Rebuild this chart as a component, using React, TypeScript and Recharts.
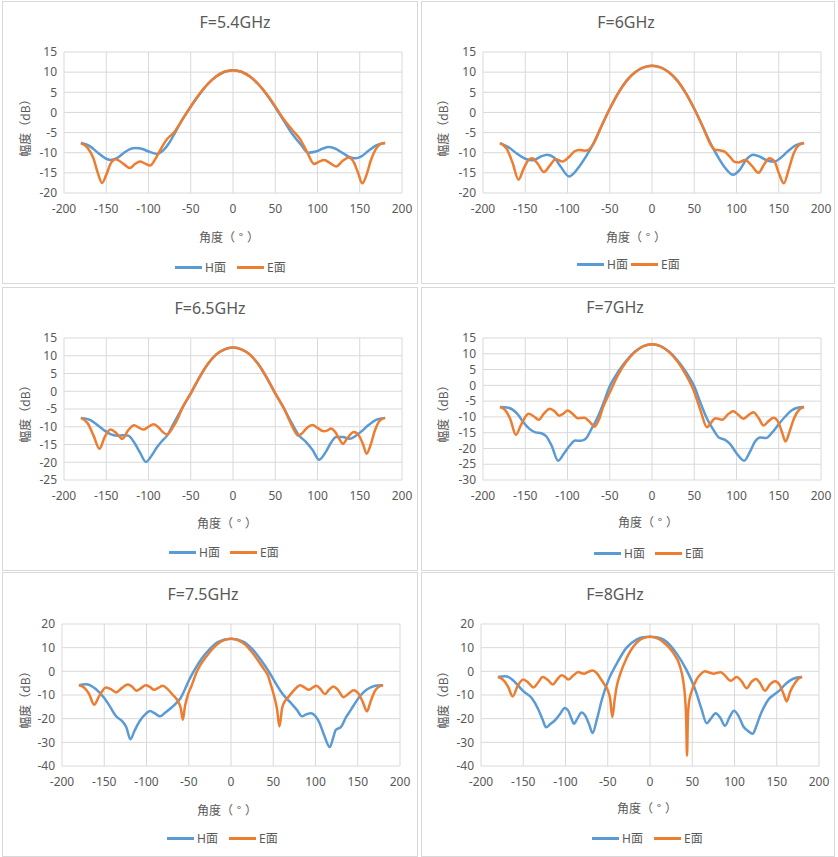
import React from 'react';
import { LineChart, Line, XAxis, YAxis, CartesianGrid } from 'recharts';

// ---------- data: [angle (deg), amplitude (dB)] ----------
const X_TICKS = [-200, -150, -100, -50, 0, 50, 100, 150, 200];
const Y_TICKS_A = [-20, -15, -10, -5, 0, 5, 10, 15];
const Y_TICKS_B = [-25, -20, -15, -10, -5, 0, 5, 10, 15];
const Y_TICKS_C = [-30, -25, -20, -15, -10, -5, 0, 5, 10, 15];
const Y_TICKS_D = [-40, -30, -20, -10, 0, 10, 20];

const SERIES_NAMES = ['H面', 'E面'];
const TITLES = ['F=5.4GHz', 'F=6GHz', 'F=6.5GHz', 'F=7GHz', 'F=7.5GHz', 'F=8GHz'];

const H_54 = [[-180,-7.6],[-170,-8.3],[-160,-10.0],[-150,-11.5],[-145,-11.8],[-138,-11.4],[-130,-10.2],[-122,-9.1],[-115,-8.8],[-108,-9.0],[-100,-9.7],[-90,-10.3],[-82,-9.3],[-75,-7.4],[-68,-4.8],[-60,-1.8],[-50,1.4],[-40,4.4],[-30,7.0],[-20,8.9],[-10,10.1],[0,10.5],[10,10.1],[20,8.9],[30,7.0],[40,4.4],[50,1.3],[60,-2.0],[70,-5.3],[80,-7.9],[89,-10.0],[98,-9.7],[106,-9.0],[113,-8.6],[120,-8.9],[130,-10.1],[138,-11.1],[145,-11.4],[152,-10.9],[160,-9.6],[170,-8.1],[180,-7.6]];
const E_54 = [[-180,-7.6],[-172,-8.8],[-165,-11.5],[-160,-15.0],[-155,-17.5],[-150,-15.5],[-145,-12.8],[-139,-11.6],[-130,-12.7],[-122,-13.8],[-116,-12.8],[-110,-12.2],[-104,-12.7],[-98,-13.2],[-92,-11.6],[-86,-9.3],[-78,-6.6],[-70,-5.0],[-60,-1.8],[-50,1.5],[-40,4.5],[-30,7.0],[-20,8.9],[-10,10.1],[0,10.5],[10,10.1],[20,8.9],[30,7.0],[40,4.5],[50,1.5],[60,-1.7],[70,-4.3],[80,-6.8],[88,-10.0],[96,-12.8],[102,-12.2],[108,-11.8],[115,-12.6],[122,-13.4],[130,-12.0],[137,-11.2],[143,-12.4],[148,-15.0],[153,-17.6],[158,-15.5],[163,-12.0],[170,-8.8],[175,-7.8],[180,-7.6]];

const H_60 = [[-180,-7.6],[-170,-8.6],[-160,-10.2],[-150,-11.5],[-141,-11.9],[-132,-11.0],[-124,-10.5],[-116,-11.2],[-108,-13.5],[-98,-15.9],[-92,-15.0],[-86,-13.4],[-78,-10.9],[-70,-8.0],[-60,-3.5],[-50,0.9],[-40,4.8],[-30,7.9],[-20,10.0],[-10,11.2],[0,11.6],[10,11.2],[20,10.0],[30,7.9],[40,4.8],[50,0.9],[60,-3.5],[70,-8.0],[78,-11.0],[86,-13.6],[96,-15.5],[104,-14.2],[112,-11.6],[120,-10.5],[128,-11.0],[137,-12.0],[145,-12.2],[152,-11.3],[160,-9.8],[170,-8.2],[180,-7.6]];
const E_60 = [[-180,-7.6],[-172,-9.0],[-165,-12.5],[-158,-16.7],[-152,-14.0],[-146,-11.8],[-142,-11.4],[-135,-12.8],[-128,-14.8],[-121,-13.2],[-114,-11.6],[-106,-12.2],[-98,-11.0],[-92,-9.7],[-86,-9.3],[-80,-9.5],[-76,-9.4],[-70,-8.0],[-60,-3.5],[-50,0.9],[-40,4.8],[-30,7.9],[-20,10.0],[-10,11.2],[0,11.6],[10,11.2],[20,10.0],[30,7.9],[40,4.8],[50,0.9],[60,-3.5],[70,-8.2],[75,-9.3],[80,-9.4],[86,-9.7],[92,-11.0],[98,-12.3],[103,-12.4],[110,-11.8],[118,-13.2],[126,-15.0],[133,-12.8],[139,-11.4],[145,-12.2],[150,-15.0],[156,-17.6],[162,-14.0],[168,-10.0],[174,-8.1],[180,-7.6]];

const H_65 = [[-180,-7.5],[-170,-8.0],[-162,-9.2],[-153,-10.9],[-145,-12.1],[-137,-12.5],[-130,-12.4],[-124,-12.5],[-116,-14.8],[-110,-17.3],[-103,-19.9],[-96,-18.0],[-90,-15.8],[-84,-14.0],[-78,-12.5],[-70,-9.0],[-60,-4.7],[-50,-0.6],[-40,3.8],[-30,7.6],[-20,10.3],[-10,11.8],[0,12.3],[10,11.8],[20,10.3],[30,7.6],[40,3.8],[50,-0.6],[60,-4.7],[70,-9.2],[78,-12.4],[86,-14.2],[94,-16.5],[102,-19.3],[110,-17.0],[116,-14.5],[122,-12.9],[130,-12.9],[138,-13.4],[145,-12.6],[152,-11.3],[160,-9.6],[170,-8.0],[180,-7.5]];
const E_65 = [[-180,-7.5],[-172,-9.0],[-165,-12.5],[-158,-16.2],[-152,-13.0],[-145,-10.8],[-138,-11.8],[-131,-13.4],[-124,-11.0],[-117,-9.6],[-111,-10.3],[-106,-10.8],[-100,-10.0],[-94,-9.3],[-88,-10.2],[-83,-11.5],[-78,-12.2],[-72,-10.5],[-65,-7.5],[-60,-4.7],[-50,-0.6],[-40,3.8],[-30,7.6],[-20,10.3],[-10,11.8],[0,12.3],[10,11.8],[20,10.3],[30,7.6],[40,3.8],[50,-0.6],[60,-4.7],[66,-7.8],[72,-10.8],[77,-12.5],[82,-11.8],[88,-10.2],[94,-9.5],[100,-10.3],[107,-11.3],[112,-11.0],[116,-10.5],[121,-11.5],[126,-13.5],[130,-14.8],[135,-13.3],[143,-11.5],[149,-12.5],[154,-15.0],[158,-17.6],[163,-15.0],[168,-11.0],[174,-8.2],[180,-7.5]];

const H_70 = [[-180,-6.9],[-172,-7.0],[-165,-7.7],[-158,-9.5],[-152,-11.8],[-145,-13.8],[-138,-14.9],[-131,-15.2],[-125,-16.2],[-119,-19.0],[-111,-23.9],[-104,-21.5],[-97,-19.0],[-91,-17.5],[-84,-17.6],[-78,-16.8],[-72,-14.0],[-65,-10.5],[-58,-6.0],[-50,-0.3],[-40,4.3],[-30,7.9],[-20,10.7],[-10,12.4],[0,13.0],[10,12.4],[20,10.7],[30,7.9],[40,4.3],[50,-0.3],[58,-6.0],[65,-10.5],[72,-13.8],[79,-16.5],[86,-17.2],[92,-18.5],[100,-21.5],[109,-23.9],[116,-21.0],[122,-17.8],[128,-16.5],[135,-16.7],[142,-15.0],[150,-12.3],[158,-9.8],[165,-8.0],[172,-7.1],[180,-6.9]];
const E_70 = [[-180,-6.9],[-174,-7.8],[-168,-10.5],[-161,-15.7],[-155,-12.5],[-146,-9.0],[-140,-9.8],[-134,-10.9],[-128,-9.0],[-121,-7.4],[-115,-8.3],[-110,-9.6],[-105,-9.0],[-100,-8.0],[-94,-9.0],[-88,-10.4],[-80,-10.3],[-74,-11.5],[-68,-13.1],[-63,-11.0],[-58,-7.0],[-50,-2.3],[-40,3.4],[-30,7.6],[-20,10.6],[-10,12.4],[0,13.0],[10,12.4],[20,10.6],[30,7.6],[40,3.4],[50,-2.1],[58,-8.5],[65,-13.3],[70,-11.8],[75,-10.4],[83,-10.9],[90,-9.2],[96,-8.2],[102,-9.3],[108,-10.6],[114,-9.5],[120,-8.5],[126,-10.3],[132,-12.7],[138,-11.3],[144,-10.3],[150,-12.0],[154,-15.0],[158,-17.8],[163,-14.5],[168,-10.5],[174,-7.8],[180,-6.9]];

const H_75 = [[-180,-5.9],[-172,-5.5],[-166,-6.0],[-160,-7.5],[-150,-11.3],[-143,-15.0],[-136,-19.0],[-129,-21.0],[-124,-23.5],[-119,-28.7],[-114,-25.0],[-108,-21.0],[-101,-18.0],[-96,-16.8],[-90,-17.8],[-84,-19.0],[-78,-17.5],[-71,-15.5],[-65,-13.5],[-60,-11.5],[-55,-8.0],[-50,-4.0],[-43,0.7],[-35,5.2],[-25,9.5],[-15,12.5],[0,13.8],[15,12.5],[25,9.5],[35,5.0],[45,-0.2],[52,-4.5],[59,-8.5],[65,-11.2],[71,-13.4],[78,-16.3],[84,-19.0],[89,-18.2],[95,-17.7],[100,-19.0],[105,-22.0],[110,-26.8],[117,-32.0],[121,-28.0],[124,-24.7],[130,-23.6],[136,-19.5],[142,-16.2],[148,-12.8],[154,-9.9],[160,-7.9],[166,-6.7],[173,-6.0],[180,-5.9]];
const E_75 = [[-180,-5.9],[-174,-6.8],[-168,-9.5],[-162,-14.1],[-156,-10.5],[-148,-6.8],[-142,-7.5],[-136,-8.9],[-129,-7.0],[-122,-5.6],[-117,-6.5],[-112,-8.2],[-106,-7.0],[-101,-5.9],[-96,-6.6],[-91,-7.8],[-86,-7.0],[-81,-6.1],[-75,-7.5],[-69,-9.9],[-63,-12.5],[-59.5,-15.5],[-57,-20.5],[-54.5,-14.8],[-51,-9.9],[-47,-6.4],[-40,0.2],[-28,6.8],[-16,11.5],[-8,13.2],[0,13.8],[8,13.2],[16,11.5],[28,6.6],[40,0.4],[43.4,-1.4],[47,-5.5],[51,-10.4],[54.5,-16.0],[57.3,-23.3],[60.5,-15.5],[64,-12.5],[68,-10.8],[75,-7.8],[82,-5.9],[87,-6.8],[92,-7.8],[97,-6.8],[101,-6.1],[106,-7.5],[111,-9.6],[116,-7.8],[121,-6.4],[127,-8.0],[133,-10.9],[139,-9.5],[145,-8.0],[151,-9.5],[156,-13.0],[161,-16.9],[165,-13.0],[170,-8.5],[175,-6.5],[180,-5.9]];

const H_80 = [[-180,-2.4],[-172,-2.1],[-166,-2.7],[-160,-4.5],[-150,-8.4],[-140,-11.3],[-132,-16.2],[-127,-20.5],[-123,-23.6],[-118,-22.3],[-112,-20.5],[-106,-17.8],[-101,-15.5],[-97,-16.5],[-93,-20.0],[-90,-22.2],[-86,-20.0],[-81,-17.4],[-77,-18.5],[-72,-22.5],[-68,-26.1],[-63,-20.5],[-57,-12.0],[-49,-3.5],[-39,3.5],[-28,9.9],[-16,13.4],[-8,14.4],[0,14.6],[8,14.4],[16,13.4],[31,7.8],[43,0.7],[55,-9.2],[61,-16.0],[67,-21.9],[72,-20.0],[77.7,-17.7],[83,-19.5],[88.8,-23.0],[94,-19.5],[99.4,-16.7],[105,-19.0],[110.5,-23.3],[116,-25.2],[121.5,-26.4],[126,-23.0],[130,-19.0],[135,-15.0],[140,-12.0],[147,-9.8],[154,-7.8],[160,-5.5],[166,-3.8],[173,-2.7],[180,-2.4]];
const E_80 = [[-180,-2.4],[-174,-3.5],[-168,-6.5],[-162.5,-10.6],[-157,-6.5],[-150,-3.5],[-144,-4.8],[-138,-6.8],[-132,-4.5],[-127,-2.4],[-121,-3.6],[-115,-5.6],[-110,-3.5],[-104.5,-1.7],[-100,-2.5],[-96.6,-3.5],[-91,-1.8],[-84.8,-0.3],[-81,-0.8],[-78,-1.0],[-73,-0.2],[-68,0.3],[-63,-0.8],[-59,-2.8],[-54,-5.5],[-50,-8.0],[-47.3,-11.3],[-44.6,-19.3],[-41.6,-11.3],[-39.4,-6.4],[-35.5,-1.4],[-27.6,5.6],[-16,12.0],[-8,14.0],[0,14.6],[8,14.0],[16,12.3],[27.6,7.8],[35.5,2.1],[39.4,-4.2],[41.5,-11.0],[42.8,-20.0],[43.8,-35.7],[44.8,-20.0],[46.2,-13.0],[49.3,-8.5],[55,-3.5],[60,-1.2],[65,0.0],[70,-0.5],[75.7,-1.0],[80,-0.6],[83.6,-0.4],[88,-1.5],[95.5,-4.0],[102.6,-2.4],[108,-4.0],[114.4,-7.1],[120,-4.5],[125.4,-3.2],[130,-4.8],[136,-8.2],[142,-5.5],[148,-4.2],[153,-5.5],[158,-9.5],[161.7,-12.7],[166,-8.5],[171.6,-4.9],[176,-3.0],[180,-2.4]];

// ---------- styling / layout ----------
const BLUE = '#5B9BD5';
const ORANGE = '#ED7D31';
const GRID = '#D9D9D9';
const TEXT = '#595959';
const FONT = "'Noto Sans', 'Noto Sans CJK SC', 'Microsoft YaHei', sans-serif";

const toXY = (pairs: number[][]) => pairs.map(([x, y]) => ({ x, y }));

type PanelCfg = {
  title: string;
  h: number[][];
  e: number[][];
  yTicks: number[];
  box: { x: number; y: number; w: number; h: number };
  plot: { x1: number; y1: number; x2: number; y2: number };
  titleC: [number, number];
  xLabC: [number, number];
  yLabC: [number, number];
  legend: { b: number; o: number; y: number };
};

const PANELS: PanelCfg[] = [
  { title: TITLES[0], h: H_54, e: E_54, yTicks: Y_TICKS_A,
    box: { x: 2, y: 1, w: 416, h: 283 }, plot: { x1: 64, y1: 52, x2: 402, y2: 193 },
    titleC: [235, 22], xLabC: [229, 237], yLabC: [25, 125], legend: { b: 175, o: 237, y: 267 } },
  { title: TITLES[1], h: H_60, e: E_60, yTicks: Y_TICKS_A,
    box: { x: 421, y: 1, w: 414, h: 283 }, plot: { x1: 483, y1: 52, x2: 821, y2: 193 },
    titleC: [626, 22], xLabC: [636, 237], yLabC: [443, 125], legend: { b: 577, o: 631, y: 264 } },
  { title: TITLES[2], h: H_65, e: E_65, yTicks: Y_TICKS_B,
    box: { x: 2, y: 287, w: 416, h: 284 }, plot: { x1: 64, y1: 338, x2: 402, y2: 480 },
    titleC: [210, 308], xLabC: [227, 523], yLabC: [25, 411], legend: { b: 169, o: 230, y: 552 } },
  { title: TITLES[3], h: H_70, e: E_70, yTicks: Y_TICKS_C,
    box: { x: 421, y: 287, w: 414, h: 284 }, plot: { x1: 483, y1: 338, x2: 821, y2: 480 },
    titleC: [615, 307], xLabC: [648, 522], yLabC: [443, 411], legend: { b: 594, o: 655, y: 553 } },
  { title: TITLES[4], h: H_75, e: E_75, yTicks: Y_TICKS_D,
    box: { x: 2, y: 572, w: 416, h: 285 }, plot: { x1: 62, y1: 624, x2: 400, y2: 766 },
    titleC: [203, 594], xLabC: [227, 810], yLabC: [25, 697], legend: { b: 167, o: 229, y: 838 } },
  { title: TITLES[5], h: H_80, e: E_80, yTicks: Y_TICKS_D,
    box: { x: 421, y: 572, w: 414, h: 285 }, plot: { x1: 481, y1: 624, x2: 819, y2: 766 },
    titleC: [615, 594], xLabC: [647, 808], yLabC: [443, 697], legend: { b: 592, o: 654, y: 838 } },
];

const YW = 40;
const XH = 20;

const abs = (x: number, y: number): React.CSSProperties => ({
  position: 'absolute', left: x, top: y, transform: 'translate(-50%, -50%)', whiteSpace: 'nowrap',
  color: TEXT, fontFamily: FONT, lineHeight: 1,
});

function LegendItem({ x, y, color, label }: { x: number; y: number; color: string; label: string }) {
  return (
    <div style={{ position: 'absolute', left: x, top: y - 8, height: 16, display: 'flex', alignItems: 'center', fontFamily: FONT, fontSize: 12, color: TEXT, whiteSpace: 'nowrap' }}>
      <div style={{ width: 27, height: 3, background: color, marginRight: 3 }} />
      <span>{label}</span>
    </div>
  );
}

function Panel({ cfg }: { cfg: PanelCfg }) {
  const { box, plot } = cfg;
  const margin = {
    left: plot.x1 - box.x - YW,
    top: plot.y1 - box.y,
    right: box.x + box.w - plot.x2,
    bottom: box.y + box.h - plot.y2 - XH,
  };
  const yMin = cfg.yTicks[0];
  const yMax = cfg.yTicks[cfg.yTicks.length - 1];
  return (
    <>
      <div style={{ position: 'absolute', left: box.x, top: box.y, width: box.w, height: box.h, boxSizing: 'border-box', border: `1px solid ${GRID}`, background: '#fff' }} />
      <div style={{ position: 'absolute', left: box.x, top: box.y, width: box.w, height: box.h }}>
        <LineChart width={box.w} height={box.h} margin={margin}>
          <CartesianGrid stroke={GRID} strokeWidth={1} />
          <XAxis type="number" dataKey="x" domain={[-200, 200]} ticks={X_TICKS} interval={0}
            height={XH} tickSize={0} tickMargin={11} axisLine={false} tickLine={false}
            tick={{ fill: TEXT, fontSize: 12, fontFamily: FONT }} allowDataOverflow />
          <YAxis type="number" domain={[yMin, yMax]} ticks={cfg.yTicks} interval={0}
            width={YW} tickSize={0} tickMargin={7} axisLine={false} tickLine={false}
            tick={{ fill: TEXT, fontSize: 12, fontFamily: FONT }} allowDataOverflow />
          <Line type="monotone" data={toXY(cfg.h)} dataKey="y" name={SERIES_NAMES[0]} stroke={BLUE}
            strokeWidth={2.5} dot={false} activeDot={false} isAnimationActive={false} />
          <Line type="monotone" data={toXY(cfg.e)} dataKey="y" name={SERIES_NAMES[1]} stroke={ORANGE}
            strokeWidth={2.5} dot={false} activeDot={false} isAnimationActive={false} />
        </LineChart>
      </div>
      <div style={{ ...abs(cfg.titleC[0], cfg.titleC[1]), fontSize: 16 }}>{cfg.title}</div>
      <div style={{ ...abs(cfg.xLabC[0], cfg.xLabC[1]), fontSize: 12, fontFamily: "'Noto Sans CJK SC', sans-serif" }}>
        角度（<span style={{ display: 'inline-block', width: 12, textAlign: 'center' }}>°</span>）
      </div>
      <div style={{ ...abs(cfg.yLabC[0], cfg.yLabC[1]), fontSize: 12, transform: 'translate(-50%, -50%) rotate(-90deg)', fontFamily: "'Noto Sans CJK SC', sans-serif" }}>幅度（dB）</div>
      <LegendItem x={cfg.legend.b} y={cfg.legend.y} color={BLUE} label={SERIES_NAMES[0]} />
      <LegendItem x={cfg.legend.o} y={cfg.legend.y} color={ORANGE} label={SERIES_NAMES[1]} />
    </>
  );
}

export default function App() {
  return (
    <div style={{ position: 'absolute', left: 0, top: 0, width: 838, height: 857, background: '#fff', overflow: 'hidden' }}>
      {PANELS.map((p) => (
        <Panel key={p.title} cfg={p} />
      ))}
    </div>
  );
}
